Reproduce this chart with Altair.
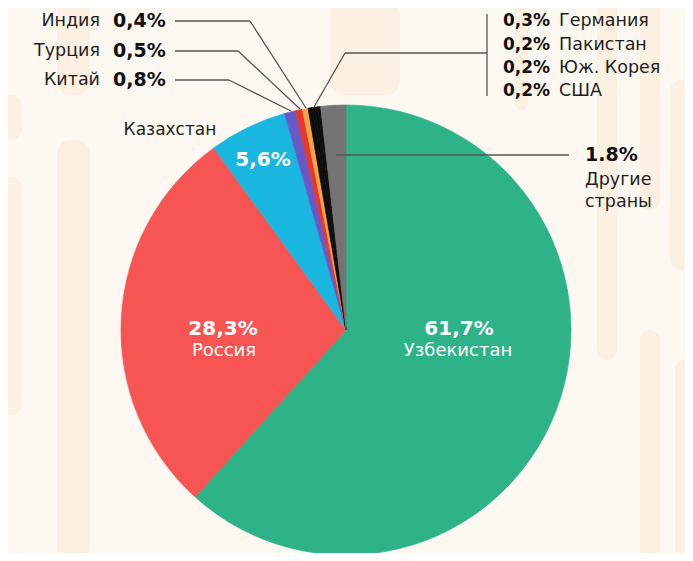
import altair as alt
import pandas as pd

# ---- data ----
countries = ["Узбекистан", "Россия", "Казахстан", "Китай", "Турция", "Индия",
             "Германия", "Пакистан", "Юж. Корея", "США", "Другие страны"]
shares = [61.7, 28.3, 5.6, 0.8, 0.5, 0.4, 0.3, 0.2, 0.2, 0.2, 1.8]
colors = ["#2eb388", "#f75553", "#19b7e0", "#6a58c9", "#e8362d", "#f6a446",
          "#0d0d0d", "#0d0d0d", "#0d0d0d", "#0d0d0d", "#747474"]

FONT = "DejaVu Sans"
OFF = 8  # page margin

pie_df = pd.DataFrame({"country": countries, "share": shares,
                       "idx": list(range(len(countries)))})

CX, CY, R = 346 - OFF, 330 - OFF, 225

color_scale = alt.Scale(domain=countries, range=colors)

# ---- decorative background bars (page coords) ----
bg = pd.DataFrame({
    "x":  [0,   57,  57, 0,   597, 640, 670, 640, 675, 330, 515],
    "x2": [22,  90,  90, 22,  617, 660, 693, 660, 693, 400, 528],
    "y":  [177, 140, 0,  95,  0,   0,   80,  330, 360, 0,   0],
    "y2": [415, 561, 95, 140, 360, 210, 270, 561, 561, 95,  110],
})
for c in bg.columns:
    bg[c] = bg[c] - OFF

bg_layer = alt.Chart(bg).mark_rect(color="#fbf0e2", cornerRadius=14).encode(
    x=alt.X("x:Q", scale=None), x2="x2:Q",
    y=alt.Y("y:Q", scale=None), y2="y2:Q",
)

pie = alt.Chart(pie_df).mark_arc(radius=R, strokeWidth=0.7).encode(
    theta=alt.Theta("share:Q", stack=True),
    color=alt.Color("country:N", scale=color_scale, legend=None),
    stroke=alt.Stroke("country:N", scale=color_scale, legend=None),
    order=alt.Order("idx:Q"),
    x=alt.value(CX), y=alt.value(CY),
)

# ---- leader lines (page coords) ----
seg = pd.DataFrame({
    "x":  [175, 250, 175, 238, 175, 229, 487, 345, 345, 336],
    "y":  [21,  21,  51,  51,  80,  80,  14,  53,  53,  155],
    "x2": [250, 306, 238, 300, 229, 291, 487, 487, 314, 569],
    "y2": [21,  108, 51,  109, 80,  111, 96,  53,  107, 155],
})
for c in seg.columns:
    seg[c] = seg[c] - OFF

lines = alt.Chart(seg).mark_rule(color="#555555", strokeWidth=1.3).encode(
    x=alt.X("x:Q", scale=None), x2="x2:Q",
    y=alt.Y("y:Q", scale=None), y2="y2:Q",
)


def text_layer(xs, ys, texts, size, weight, color, align):
    df = pd.DataFrame({"x": [v - OFF for v in xs], "y": [v - OFF for v in ys], "t": texts})
    return alt.Chart(df).mark_text(font=FONT, fontSize=size, fontWeight=weight, color=color,
                                   align=align, baseline="middle").encode(
        x=alt.X("x:Q", scale=None), y=alt.Y("y:Q", scale=None), text="t:N")


left_names = text_layer([100, 100, 100], [21, 51, 80], ["Индия", "Турция", "Китай"],
                        17.5, "normal", "#1e1e1e", "right")
left_pct = text_layer([113, 113, 113], [21, 51, 80], ["0,4%", "0,5%", "0,8%"],
                      19, "bold", "#111111", "left")
right_pct = text_layer([503] * 4, [21, 45, 68, 91], ["0,3%", "0,2%", "0,2%", "0,2%"],
                       17, "bold", "#111111", "left")
right_names = text_layer([559] * 4, [21, 45, 68, 91], ["Германия", "Пакистан", "Юж. Корея", "США"],
                         17.5, "normal", "#1e1e1e", "left")
kaz = text_layer([170], [130], ["Казахстан"], 17, "normal", "#1e1e1e", "center")
white_big = text_layer([263, 223, 459], [160, 329, 329], ["5,6%", "28,3%", "61,7%"],
                       20, "bold", "white", "center")
white_small = text_layer([224, 458], [351, 351], ["Россия", "Узбекистан"],
                         18, "normal", "white", "center")
other_pct = text_layer([585], [155], ["1.8%"], 19, "bold", "#111111", "left")
other_name = text_layer([585, 585], [180, 202], ["Другие", "страны"], 17.5, "normal", "#1e1e1e", "left")

chart = alt.layer(
    bg_layer, pie, lines, left_names, left_pct, right_pct, right_names, kaz,
    white_big, white_small, other_pct, other_name
).properties(
    width=693 - 2 * OFF, height=561 - 2 * OFF, padding=0, autosize="none",
    background="#fdf9f2",
).configure_view(stroke=None)

chart.save("out.html", embed_options={"renderer": "svg", "actions": False})
